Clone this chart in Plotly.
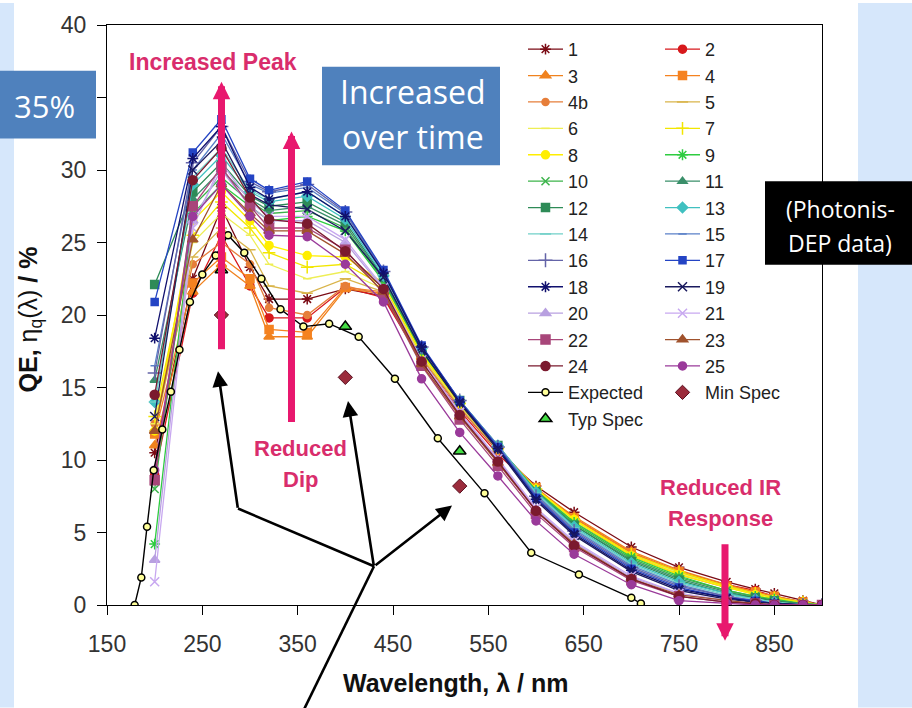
import plotly.graph_objects as go

# Common wavelength grid (nm) of the measured tubes
wavelength = [200, 240, 270, 300, 320, 360, 400, 440, 480, 520, 560, 600, 640, 700, 750, 800, 830, 850, 880, 900]

# Quantum efficiency (%) for each tube
qe_1 = [10.5, 22.5, 27.4, 23.3, 21.1, 21.1, 21.8, 21.3, 17.0, 13.6, 10.6, 8.2, 6.4, 4.0, 2.6, 1.6, 1.1, 0.8, 0.3, 0.0]
qe_2 = [9.0, 21.5, 25.5, 22.0, 19.8, 19.8, 21.9, 21.2, 16.8, 13.4, 10.4, 8.0, 6.0, 3.6, 2.3, 1.4, 1.0, 0.6, 0.2, 0.0]
qe_3 = [11.0, 21.6, 23.5, 22.0, 18.5, 18.5, 21.8, 21.5, 17.1, 13.7, 10.7, 8.0, 6.1, 3.7, 2.4, 1.4, 0.9, 0.6, 0.2, 0.0]
qe_4 = [11.8, 22.2, 24.0, 22.5, 19.0, 18.8, 21.9, 21.6, 17.2, 13.8, 10.8, 8.1, 6.0, 3.6, 2.3, 1.3, 0.9, 0.6, 0.2, 0.0]
qe_4b = [12.5, 23.5, 25.0, 23.5, 20.5, 20.0, 22.0, 21.4, 17.0, 13.6, 10.6, 7.9, 5.8, 3.4, 2.1, 1.2, 0.8, 0.5, 0.1, 0.0]
qe_5 = [12.0, 24.0, 26.0, 24.5, 22.0, 21.5, 22.5, 21.6, 17.1, 13.7, 10.7, 8.0, 5.9, 3.5, 2.2, 1.3, 0.8, 0.5, 0.2, 0.0]
qe_6 = [12.5, 25.0, 27.0, 25.5, 23.5, 22.5, 23.0, 21.8, 17.2, 13.8, 10.7, 7.9, 5.8, 3.5, 2.2, 1.2, 0.8, 0.5, 0.1, 0.0]
qe_7 = [13.0, 25.5, 27.8, 26.0, 24.3, 23.3, 23.5, 22.0, 17.3, 13.9, 10.8, 8.0, 5.9, 3.5, 2.3, 1.3, 0.8, 0.5, 0.2, 0.0]
qe_8 = [12.0, 26.5, 28.5, 26.5, 24.8, 24.1, 24.0, 22.2, 17.4, 13.9, 10.8, 8.0, 5.9, 3.4, 2.1, 1.2, 0.7, 0.4, 0.1, 0.0]
qe_9 = [4.2, 27.0, 29.0, 27.5, 26.5, 26.8, 25.8, 22.3, 17.5, 14.0, 10.9, 7.9, 5.7, 3.3, 2.0, 1.0, 0.6, 0.4, 0.1, 0.0]
qe_10 = [8.0, 27.5, 29.5, 27.8, 27.0, 27.2, 26.0, 22.4, 17.5, 14.0, 10.9, 7.9, 5.6, 3.2, 1.9, 1.0, 0.6, 0.3, 0.1, 0.0]
qe_11 = [15.5, 28.0, 30.0, 28.0, 27.2, 27.5, 26.2, 22.5, 17.6, 14.0, 10.9, 7.8, 5.5, 3.1, 1.8, 0.9, 0.5, 0.3, 0.1, 0.0]
qe_12 = [22.1, 28.5, 30.5, 28.2, 27.5, 27.8, 26.4, 22.6, 17.6, 14.1, 11.0, 7.8, 5.5, 3.0, 1.7, 0.8, 0.5, 0.3, 0.0, 0.0]
qe_13 = [14.0, 29.0, 31.0, 28.5, 27.8, 28.2, 26.6, 22.7, 17.7, 14.1, 11.0, 7.8, 5.4, 2.9, 1.6, 0.8, 0.4, 0.2, 0.0, 0.0]
qe_14 = [14.0, 29.5, 31.5, 28.6, 28.0, 28.5, 26.8, 22.8, 17.7, 14.1, 11.0, 7.7, 5.3, 2.8, 1.5, 0.7, 0.4, 0.2, 0.0, 0.0]
qe_15 = [16.5, 30.0, 32.5, 29.0, 28.4, 28.8, 27.0, 22.9, 17.8, 14.1, 11.0, 7.6, 5.2, 2.7, 1.4, 0.6, 0.3, 0.1, 0.0, 0.0]
qe_16 = [16.0, 30.5, 33.0, 29.2, 28.5, 29.0, 27.1, 23.0, 17.8, 14.1, 10.9, 7.5, 5.1, 2.6, 1.3, 0.6, 0.3, 0.1, 0.0, 0.0]
qe_17 = [20.9, 31.2, 33.5, 29.4, 28.6, 29.2, 27.2, 23.1, 17.9, 14.1, 10.9, 7.4, 5.0, 2.5, 1.2, 0.5, 0.3, 0.1, 0.0, 0.0]
qe_18 = [18.4, 30.8, 33.0, 28.8, 28.0, 28.5, 26.8, 22.9, 17.8, 14.0, 10.8, 7.3, 4.9, 2.4, 1.1, 0.5, 0.2, 0.1, 0.0, 0.0]
qe_19 = [13.0, 30.0, 32.0, 28.3, 27.6, 27.3, 25.8, 22.6, 17.6, 13.9, 10.7, 7.2, 4.8, 2.3, 1.0, 0.4, 0.2, 0.1, 0.0, 0.0]
qe_20 = [3.1, 26.5, 30.0, 27.5, 26.5, 26.5, 25.0, 21.8, 16.8, 13.2, 10.0, 6.6, 4.3, 1.9, 0.8, 0.3, 0.1, 0.0, 0.0, 0.0]
qe_21 = [1.6, 26.0, 30.5, 27.8, 26.8, 26.8, 25.2, 21.9, 16.9, 13.3, 10.1, 6.7, 4.4, 2.0, 0.8, 0.3, 0.1, 0.0, 0.0, 0.0]
qe_22 = [8.6, 27.5, 30.2, 27.5, 26.0, 26.0, 24.5, 21.5, 16.5, 12.8, 9.6, 6.3, 4.0, 1.7, 0.6, 0.2, 0.1, 0.0, 0.0, 0.0]
qe_23 = [12.0, 25.2, 29.0, 27.0, 25.8, 25.8, 24.2, 21.6, 16.6, 13.0, 9.8, 6.5, 4.2, 1.8, 0.7, 0.3, 0.1, 0.0, 0.0, 0.0]
qe_24 = [14.5, 29.3, 31.5, 28.1, 26.6, 26.3, 24.4, 21.8, 16.8, 13.1, 9.9, 6.5, 4.1, 1.8, 0.6, 0.2, 0.1, 0.0, 0.0, 0.0]
qe_25 = [9.3, 26.8, 29.0, 26.8, 25.5, 25.4, 23.5, 20.9, 15.6, 11.9, 8.9, 5.8, 3.5, 1.4, 0.3, 0.1, 0.0, 0.0, 0.0, 0.0]

# Expected response curve
expected_wavelength = [179, 186, 192, 199, 208, 217, 226, 237, 250, 264, 277, 294, 312, 332, 356, 383, 414, 452, 497, 546, 595, 645, 700, 710]
expected_qe = [0.0, 1.9, 5.4, 9.3, 12.1, 14.7, 17.6, 20.9, 22.8, 24.1, 25.5, 24.3, 22.5, 20.4, 19.2, 19.4, 18.5, 15.6, 11.5, 7.7, 3.6, 2.1, 0.5, 0.1]

# Specification points
spec_wavelength = [270, 400, 520]
min_spec_qe = [20.0, 15.7, 8.2]
typ_spec_qe = [23.1, 19.2, 10.6]

# Axis ticks (the 35 label sits under the "35%" callout box)
x_ticks = [150, 250, 350, 450, 550, 650, 750, 850]
y_ticks = [0, 5, 10, 15, 20, 25, 30, 35, 40]
y_tick_labels = ["0", "5", "10", "15", "20", "25", "30", "", "40"]

tube_series = [
    ("1", qe_1), ("2", qe_2), ("3", qe_3), ("4", qe_4), ("4b", qe_4b),
    ("5", qe_5), ("6", qe_6), ("7", qe_7), ("8", qe_8), ("9", qe_9),
    ("10", qe_10), ("11", qe_11), ("12", qe_12), ("13", qe_13), ("14", qe_14),
    ("15", qe_15), ("16", qe_16), ("17", qe_17), ("18", qe_18), ("19", qe_19),
    ("20", qe_20), ("21", qe_21), ("22", qe_22), ("23", qe_23), ("24", qe_24),
    ("25", qe_25),
]

# colour, marker symbol, marker size, legend column
tube_style = {
    "1": ("#7a0a14", "asterisk-open", 9, "legend"),
    "2": ("#d7191c", "circle", 8, "legend2"),
    "3": ("#f0821e", "triangle-up", 9, "legend"),
    "4": ("#f58220", "square", 8, "legend2"),
    "4b": ("#e67e3a", "circle", 7, "legend"),
    "5": ("#d9b44a", "line-ew-open", 8, "legend2"),
    "6": ("#eeee55", "line-ew-open", 6, "legend"),
    "7": ("#f2e600", "cross-thin-open", 9, "legend2"),
    "8": ("#ffee00", "circle", 8, "legend"),
    "9": ("#2ecc40", "asterisk-open", 9, "legend2"),
    "10": ("#3cb44b", "x-thin-open", 8, "legend"),
    "11": ("#3a8f6a", "triangle-up", 8, "legend2"),
    "12": ("#2e8b57", "square", 8, "legend"),
    "13": ("#40c0c0", "diamond", 8, "legend2"),
    "14": ("#70d0c8", "line-ew-open", 8, "legend"),
    "15": ("#5a80c8", "line-ew-open", 6, "legend2"),
    "16": ("#6464a8", "cross-thin-open", 10, "legend"),
    "17": ("#2444c4", "square", 7, "legend2"),
    "18": ("#10106e", "asterisk-open", 9, "legend"),
    "19": ("#1a1a5e", "x-thin-open", 9, "legend2"),
    "20": ("#b8a0e0", "triangle-up", 9, "legend"),
    "21": ("#c8a8f0", "x-thin-open", 9, "legend2"),
    "22": ("#a8467a", "square", 9, "legend"),
    "23": ("#a0522d", "triangle-up", 9, "legend2"),
    "24": ("#7b1a2e", "circle", 9, "legend"),
    "25": ("#9a3a9a", "circle", 8, "legend2"),
}

W, H = 912, 708
L, R, T, B = 107, 90, 22, 103
PW, PH = W - L - R, H - T - B


def px(x):
    return (x - L) / PW


def py(y):
    return (H - B - y) / PH


fig = go.Figure()

for name, values in tube_series:
    color, symbol, size, legend = tube_style[name]
    fig.add_trace(go.Scatter(
        x=wavelength, y=values, name=name, mode="lines+markers",
        line=dict(color=color, width=1.3),
        marker=dict(symbol=symbol, size=size, color=color,
                    line=dict(color=color, width=1.5)),
        legend=legend,
    ))

fig.add_trace(go.Scatter(
    x=expected_wavelength, y=expected_qe, name="Expected", mode="lines+markers",
    line=dict(color="black", width=1.4),
    marker=dict(symbol="circle", size=7, color="#ffff99", line=dict(color="black", width=1.5)),
    legend="legend",
))
fig.add_trace(go.Scatter(
    x=spec_wavelength, y=min_spec_qe, name="Min Spec", mode="markers",
    marker=dict(symbol="diamond", size=11, color="#9b2c3c", line=dict(color="#5a1020", width=1)),
    legend="legend2",
))
fig.add_trace(go.Scatter(
    x=spec_wavelength, y=typ_spec_qe, name="Typ Spec", mode="markers",
    marker=dict(symbol="triangle-up", size=11, color="#44dd44", line=dict(color="black", width=1.5)),
    legend="legend",
))

tick_font = dict(family="Liberation Sans, Arial", size=23, color="#333333")
fig.update_xaxes(
    range=[150, 900], tickvals=x_ticks, ticks="outside", ticklen=9, tickwidth=1.3,
    tickcolor="black", showline=True, linecolor="black", linewidth=1.3, mirror=True,
    showgrid=False, zeroline=False, tickfont=tick_font, ticklabelstandoff=9,
)
fig.update_yaxes(
    range=[0, 40], tickvals=y_ticks, ticktext=y_tick_labels, ticks="outside", ticklen=9,
    tickwidth=1.3, tickcolor="black", showline=True, linecolor="black", linewidth=1.3,
    mirror=True, showgrid=False, zeroline=False, tickfont=tick_font, ticklabelstandoff=6,
)

legend_font = dict(family="Liberation Sans, Arial", size=18, color="#222222")
fig.update_layout(
    width=W, height=H, autosize=False,
    margin=dict(l=L, r=R, t=T, b=B, pad=0),
    paper_bgcolor="white", plot_bgcolor="white",
    legend=dict(x=px(523), y=py(28), xanchor="left", yanchor="top",
                bgcolor="rgba(0,0,0,0)", font=legend_font, itemwidth=35,
                tracegroupgap=0, traceorder="normal"),
    legend2=dict(x=px(660), y=py(28), xanchor="left", yanchor="top",
                 bgcolor="rgba(0,0,0,0)", font=legend_font, itemwidth=35,
                 tracegroupgap=0, traceorder="normal"),
)

# Slide background strips and callout boxes
slide_blue = "#d6e7fb"
box_blue = "#4f81bd"
shapes = [
    dict(type="rect", xref="paper", yref="paper", x0=px(0), x1=px(14), y0=py(708), y1=py(0),
         fillcolor=slide_blue, line=dict(width=0), layer="below"),
    dict(type="rect", xref="paper", yref="paper", x0=px(858), x1=px(912), y0=py(708), y1=py(0),
         fillcolor=slide_blue, line=dict(width=0), layer="below"),
    dict(type="rect", xref="paper", yref="paper", x0=px(0), x1=px(96), y0=py(136), y1=py(68),
         fillcolor=box_blue, line=dict(width=0)),
    dict(type="rect", xref="paper", yref="paper", x0=px(322), x1=px(500), y0=py(163), y1=py(64),
         fillcolor=box_blue, line=dict(width=0)),
    dict(type="rect", xref="paper", yref="paper", x0=px(765), x1=px(912), y0=py(263), y1=py(179),
         fillcolor="black", line=dict(width=0)),
]

# Black pointer lines meeting at a common hub
hub = (374, 566)
black_line = dict(color="black", width=2.6)
shapes.append(dict(type="line", xref="paper", yref="paper", x0=px(hub[0]), y0=py(hub[1]),
                   x1=px(238), y1=py(508), line=black_line))
shapes.append(dict(type="line", xref="paper", yref="paper", x0=px(hub[0]), y0=py(hub[1]),
                   x1=px(303), y1=py(712), line=black_line))
fig.update_layout(shapes=shapes)

pink_arrow = "#e8186e"
pink_text = "#d92d6c"
annotations = []


def text(x, y, s, size, color, bold=False, family="Liberation Sans, Arial", angle=0):
    annotations.append(dict(
        x=px(x), y=py(y), xref="paper", yref="paper", showarrow=False,
        text=f"<b>{s}</b>" if bold else s, textangle=angle,
        font=dict(family=family, size=size, color=color),
        xanchor="center", yanchor="middle",
    ))


def arrow(tip, tail, color, width, size):
    annotations.append(dict(
        x=px(tip[0]), y=py(tip[1]), xref="paper", yref="paper", text="",
        showarrow=True, arrowhead=2, arrowsize=size, arrowwidth=width, arrowcolor=color,
        ax=tail[0] - tip[0], ay=tail[1] - tip[1], axref="pixel", ayref="pixel", standoff=0,
    ))


# Pink trend annotations
text(213, 59, "Increased Peak", 23, pink_text, bold=True)
arrow((221.5, 79), (221.5, 348), pink_arrow, 7, 0.5)
arrow((291.5, 129), (291.5, 421), pink_arrow, 7, 0.5)
text(300, 448, "Reduced", 22, pink_text, bold=True)
text(300, 479, "Dip", 22, pink_text, bold=True)
text(720, 487, "Reduced IR", 22, pink_text, bold=True)
text(720, 518, "Response", 22, pink_text, bold=True)
arrow((725, 641), (725, 543), pink_arrow, 7, 0.5)

# Black arrows to the specification points
arrow((218, 370), (238, 508), "black", 2.6, 1.2)
arrow((348, 400), hub, "black", 2.6, 1.2)
arrow((452, 505), hub, "black", 2.6, 1.2)

# Callout box texts
callout_font = "Open Sans, Noto Sans"
text(44, 103, "35%", 31, "white", family=callout_font)
text(413, 89, "Increased", 32, "white", family=callout_font)
text(413, 134, "over time", 32, "white", family=callout_font)
text(840, 207, "(Photonis-", 23, "white", family=callout_font)
text(840, 241, "DEP data)", 23, "white", family=callout_font)

# Axis titles
text(456, 683, "Wavelength, λ / nm", 25, "#111111", bold=True)
text(30, 318, "<b>QE, </b>η<sub>q</sub>(λ)<b> / %</b>", 25, "#111111", angle=-90)

fig.update_layout(annotations=annotations)

fig.write_html("out.html")
